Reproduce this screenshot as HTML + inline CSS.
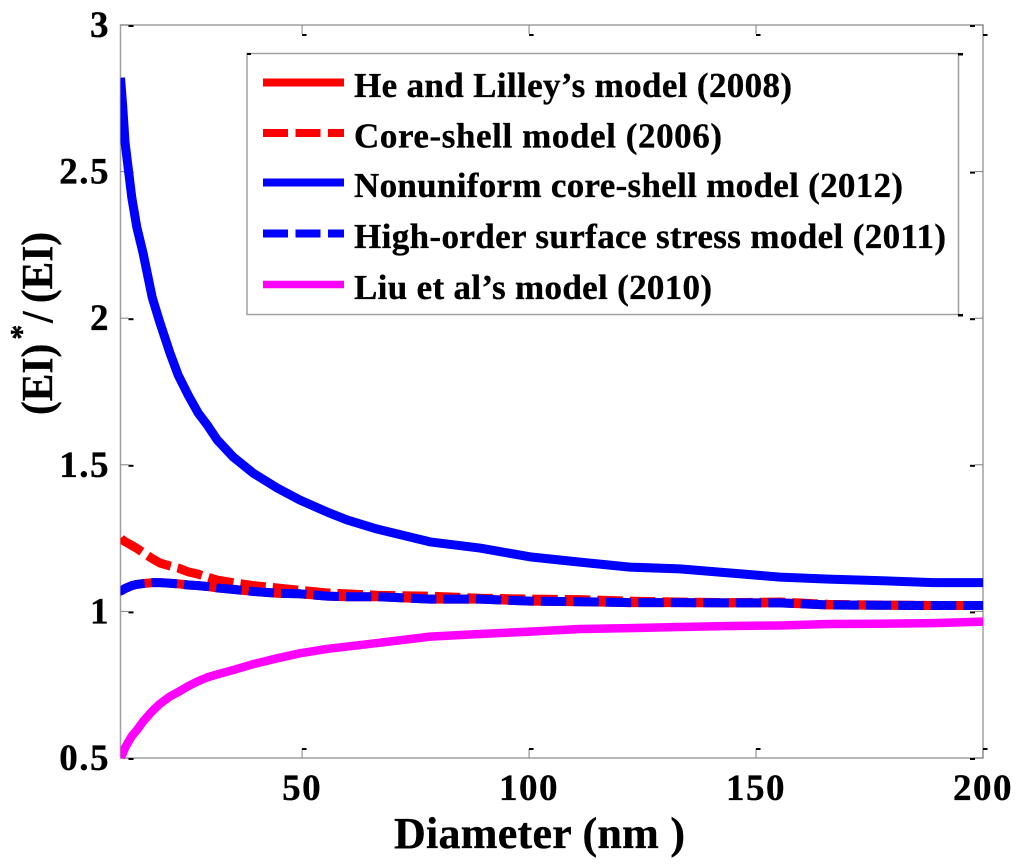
<!DOCTYPE html>
<html>
<head>
<meta charset="utf-8">
<title>Normalized bending stiffness vs diameter</title>
<style>
html,body{margin:0;padding:0;background:#fff;width:1024px;height:868px;overflow:hidden}
svg{display:block}
text{font-family:"Liberation Serif",serif;font-weight:bold;fill:#000;stroke:#000;stroke-width:0.35px}
</style>
</head>
<body>
<svg id="chart" width="1024" height="868" viewBox="0 0 1024 868" xmlns="http://www.w3.org/2000/svg">
  <defs>
    <clipPath id="plot-clip"><rect x="120.5" y="25" width="862.5" height="740"></rect></clipPath>
  </defs>
  <rect x="0" y="0" width="1024" height="868" fill="#fff"></rect>
  <g id="axes"></g>
  <g id="series" clip-path="url(#plot-clip)"></g>
  <g id="ticklabels"></g>
  <text x="394" y="848" font-size="44" textLength="291" lengthAdjust="spacing">Diameter (nm )</text>
  <text transform="translate(52,415) rotate(-90) scale(0.94,1)" font-size="44">(EI)<tspan x="80" y="-20" font-size="32">*</tspan><tspan x="98" y="0" font-size="44">/</tspan><tspan x="119" y="0" font-size="44">(EI)</tspan></text>
  <g id="legend">
    <rect x="247" y="53.5" width="711.5" height="261" fill="#fff" stroke="#a0a0a0" stroke-width="1.5"></rect>
    <rect x="247" y="53" width="4" height="2" fill="#000"></rect>
    <rect x="958" y="53" width="5" height="2.5" fill="#000"></rect>
    <rect x="958" y="314" width="5" height="2.5" fill="#000"></rect>
  </g>
  <g id="legend-entries"></g>
</svg>
<script>
// Chart data
const diameters = [10,10.1,10.5,11,12.5,13.6,15,17,18.7,20.9,22.7,24.9,27.1,29.1,31.3,34.8,39.2,44.5,49.5,55.5,59.9,66.5,78.2,89.2,100.2,111.2,122.2,133.2,144.3,155.3,166,177,189,200];
const heLilley = [1.07,1.07,1.073,1.078,1.088,1.092,1.095,1.098,1.098,1.096,1.094,1.09,1.088,1.085,1.08,1.075,1.068,1.062,1.06,1.052,1.05,1.05,1.042,1.042,1.035,1.033,1.03,1.03,1.029,1.029,1.022,1.021,1.02,1.02];
const coreShell = [1.25,1.248,1.243,1.238,1.225,1.215,1.2,1.18,1.165,1.155,1.148,1.135,1.127,1.117,1.107,1.098,1.088,1.08,1.072,1.063,1.06,1.055,1.052,1.045,1.042,1.04,1.035,1.032,1.03,1.032,1.024,1.022,1.02,1.02];
const nonuniform = [2.82,2.8,2.72,2.6,2.41,2.31,2.22,2.07,1.984,1.881,1.806,1.738,1.677,1.636,1.585,1.527,1.472,1.421,1.38,1.339,1.312,1.281,1.237,1.216,1.186,1.168,1.151,1.145,1.131,1.117,1.11,1.105,1.098,1.098];
const highOrder = [1.07,1.07,1.073,1.078,1.088,1.092,1.095,1.098,1.098,1.096,1.094,1.09,1.088,1.085,1.08,1.075,1.068,1.062,1.06,1.052,1.05,1.05,1.042,1.042,1.035,1.033,1.03,1.03,1.029,1.029,1.022,1.021,1.02,1.02];
const liu = [0.5,0.505,0.515,0.535,0.575,0.595,0.625,0.66,0.685,0.71,0.725,0.745,0.762,0.775,0.785,0.8,0.82,0.84,0.857,0.872,0.88,0.892,0.914,0.923,0.931,0.94,0.943,0.947,0.95,0.952,0.957,0.958,0.96,0.965];
const xTicks = [50,100,150,200];
const xTickLabels = ["50","100","150","200"];
const yTicks = [0.5,1,1.5,2,2.5,3];
const yTickLabels = ["0.5","1","1.5","2","2.5","3"];
const legendLabels = ["He and Lilley\u2019s model (2008)","Core-shell model (2006)","Nonuniform core-shell model (2012)","High-order surface stress model (2011)","Liu et al\u2019s model (2010)"];

const NS = "http://www.w3.org/2000/svg";
const plot = {left:120.5,right:983,top:25,bottom:758};
function xScale(d){return plot.left+(d-10)/(200-10)*(plot.right-plot.left);}
function yScale(v){return plot.bottom-(v-0.5)/(3-0.5)*(plot.bottom-plot.top);}
function make(tag,attrs,parent){
  const el=document.createElementNS(NS,tag);
  for(const k in attrs){el.setAttribute(k,attrs[k]);}
  parent.appendChild(el);
  return el;
}

// Axes
const axes=document.getElementById("axes");
const frame=make("rect",{x:plot.left,y:plot.top,width:plot.right-plot.left,height:plot.bottom-plot.top,fill:"none",stroke:"#a0a0a0","stroke-width":1.5},axes);



yTicks.forEach(function(v){
  const y=yScale(v);
  [[plot.left,1],[plot.right,-1]].forEach(function(s){
    const t=make("path",{d:"M"+s[0]+" "+y+"h"+(s[1]*8),stroke:"#808080","stroke-width":1,fill:"none"},axes);
    
    
    const b=make("rect",{x:s[1]>0?s[0]+8:s[0]-13,y:y,width:5,height:2,fill:"#000"},axes);
    
    
  });
});
xTicks.forEach(function(d){
  const x=xScale(d);
  const t1=make("path",{d:"M"+x+" "+plot.top+"v9",stroke:"#808080","stroke-width":1,fill:"none"},axes);
  
  
  const b1=make("rect",{x:x,y:plot.top+9,width:4.5,height:2,fill:"#000"},axes);
  
  
  const t2=make("path",{d:"M"+x+" "+plot.bottom+"v-9",stroke:"#808080","stroke-width":1,fill:"none"},axes);
  
  
  const b2=make("rect",{x:x,y:plot.bottom-10,width:4.5,height:2,fill:"#000"},axes);
  
  
});

// Tick labels
const labels=document.getElementById("ticklabels");
yTicks.forEach(function(v,i){
  const t=make("text",{x:110,y:yScale(v)+12,"font-size":37,"text-anchor":"end","letter-spacing":1.5},labels);
  t.textContent=yTickLabels[i];
  
  
});
xTicks.forEach(function(d,i){
  const t=make("text",{x:xScale(d),y:800,"font-size":37,"text-anchor":"middle","letter-spacing":1.5},labels);
  t.textContent=xTickLabels[i];
  
  
});

// Series
const seriesGroup=document.getElementById("series");
function points(values){
  return values.map(function(v,i){return xScale(diameters[i]).toFixed(2)+","+yScale(v).toFixed(2);}).join(" ");
}
const styleBase={fill:"none","stroke-width":9,"stroke-linejoin":"round"};
function drawSeries(values,color,dash){
  const attrs=Object.assign({},styleBase,{points:points(values),stroke:color});
  if(dash){attrs["stroke-dasharray"]="25.5 7";}
  return make("polyline",attrs,seriesGroup);
}
const s1=drawSeries(heLilley,"#ff0000",false);


const s2=drawSeries(coreShell,"#ff0000",true);


const s3=drawSeries(nonuniform,"#0000ff",false);


const s4=drawSeries(highOrder,"#0000ff",true);


const s5=drawSeries(liu,"#ff00ff",false);
s5.setAttribute('stroke-width','8.5');



// Legend entries
const legendGroup=document.getElementById("legend-entries");
const legendColors=["#ff0000","#ff0000","#0000ff","#0000ff","#ff00ff"];
const legendDash=[false,true,false,true,false];
const legendY=[82.5,133,182.5,233.5,284.5];
const legendTextWidth=[438,368,549,592,358];
legendLabels.forEach(function(label,i){
  const l=make("path",{d:"M263 "+legendY[i]+"H344",stroke:legendColors[i],"stroke-width":i===4?7.5:8,fill:"none"},legendGroup);
  if(legendDash[i]){l.setAttribute("stroke-dasharray","25 7.5");}
  
  
  const t=make("text",{x:354,y:legendY[i]+14.5,"font-size":35,textLength:legendTextWidth[i],lengthAdjust:"spacing"},legendGroup);
  t.textContent=label;
  
  
});
</script>
</body>
</html>
